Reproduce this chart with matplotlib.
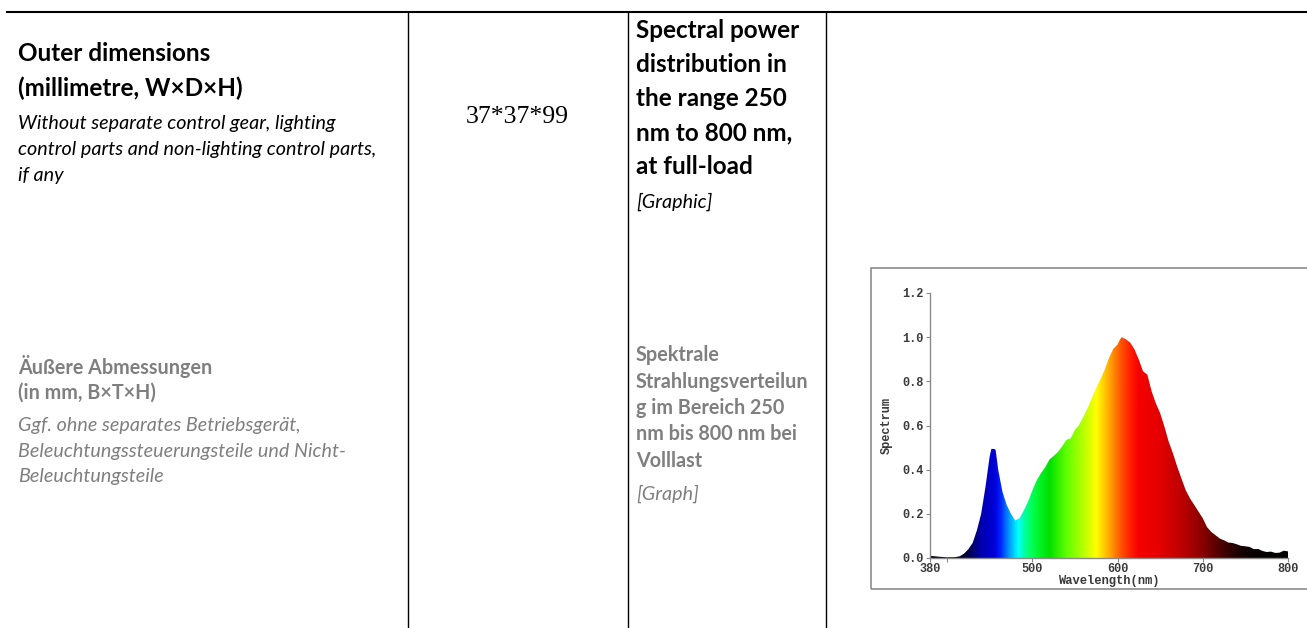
import numpy as np
import matplotlib
matplotlib.use("Agg")
import matplotlib.pyplot as plt
from matplotlib.colors import LinearSegmentedColormap
from matplotlib.patches import Rectangle, Polygon
from matplotlib.lines import Line2D

# ---------------- data ----------------
wavelength = [380, 390, 400, 410, 415, 420, 425, 430, 435, 440, 445, 450, 452, 455, 457,
              460, 465, 470, 475, 480, 485, 490, 495, 500, 505, 510, 515, 520, 525, 530,
              535, 540, 545, 550, 555, 560, 565, 570, 575, 580, 585, 590, 595, 600, 603,
              605, 610, 615, 620, 625, 630, 635, 640, 645, 650, 655, 660, 665, 670, 675,
              680, 685, 690, 695, 700, 705, 710, 715, 720, 725, 730, 735, 740, 745, 750,
              755, 760, 765, 770, 775, 780, 785, 790, 795, 800]
spectrum = [0.010, 0.006, 0.003, 0.004, 0.008, 0.020, 0.040, 0.068, 0.125, 0.200, 0.320, 0.460, 0.494, 0.494, 0.490,
            0.400, 0.300, 0.240, 0.200, 0.170, 0.180, 0.215, 0.255, 0.305, 0.350, 0.383, 0.410, 0.445, 0.462, 0.480,
            0.505, 0.535, 0.542, 0.580, 0.603, 0.640, 0.680, 0.725, 0.770, 0.810, 0.853, 0.906, 0.947, 0.967, 0.990,
            1.000, 0.990, 0.975, 0.944, 0.898, 0.845, 0.830, 0.755, 0.700, 0.656, 0.595, 0.527, 0.474, 0.414, 0.360,
            0.307, 0.270, 0.240, 0.210, 0.180, 0.140, 0.118, 0.103, 0.088, 0.080, 0.070, 0.068, 0.062, 0.055, 0.053,
            0.050, 0.040, 0.041, 0.032, 0.027, 0.029, 0.023, 0.024, 0.033, 0.030]

# wavelength -> colour anchors for the rainbow fill
color_nm = [380, 420, 430, 440, 455, 462, 470, 477, 483, 490, 500, 510, 520, 540, 560, 575,
            585, 595, 605, 615, 625, 650, 680, 700, 720, 740, 760, 800]
color_hex = ["#000010", "#000030", "#000070", "#0000b0", "#0000d8", "#0020ff", "#0080ff", "#00c8ff",
             "#00ffff", "#00ffa0", "#00ff50", "#00f020", "#00e000", "#60ff00", "#b8ff00", "#ffff00",
             "#ffc800", "#ff8c00", "#ff5000", "#ff2000", "#f60000", "#e40000", "#b40000", "#8a0000",
             "#500000", "#200000", "#080000", "#000000"]

y_ticks = [0.0, 0.2, 0.4, 0.6, 0.8, 1.0, 1.2]
x_ticks = [380, 400, 500, 600, 700, 800]
x_tick_labels = ["380", "", "500", "600", "700", "800"]

col1_en_bold = ["Outer dimensions", "(millimetre, W\u00d7D\u00d7H)"]
col1_en_ital = ["Without separate control gear, lighting",
                "control parts and non-lighting control parts,",
                "if any"]
col1_de_bold = ["\u00c4u\u00dfere Abmessungen", "(in mm, B\u00d7T\u00d7H)"]
col1_de_ital = ["Ggf. ohne separates Betriebsger\u00e4t,",
                "Beleuchtungssteuerungsteile und Nicht-",
                "Beleuchtungsteile"]
col2_value = "37*37*99"
col3_en_bold = ["Spectral power", "distribution in", "the range 250", "nm to 800 nm,", "at full-load"]
col3_en_ital = "[Graphic]"
col3_de_bold = ["Spektrale", "Strahlungsverteilun", "g im Bereich 250", "nm bis 800 nm bei", "Volllast"]
col3_de_ital = "[Graph]"

# ---------------- figure ----------------
W, H = 1307, 628
fig = plt.figure(figsize=(W / 100, H / 100), dpi=100)
fig.patch.set_facecolor("white")

def fx(px):
    return px / W

def fy(py):
    return 1 - py / H

# table lines
fig.add_artist(Line2D([fx(7), fx(1307)], [fy(11.5), fy(11.5)], color="black", lw=1.5,
                      transform=fig.transFigure))
for xv in [408, 627.5, 825.5]:
    fig.add_artist(Line2D([fx(xv), fx(xv)], [fy(11.5), fy(630)], color="black", lw=1.0,
                          transform=fig.transFigure))

TF = "Lato"
grey = "#7f7f7f"
HEAD = 17.5
SMALL = 14.2

# column 1, English
for i, t in enumerate(col1_en_bold):
    fig.text(fx(18), fy(61 + 35 * i), t, fontsize=HEAD, fontweight="bold", family=TF,
             color="black", va="baseline", ha="left")
for i, t in enumerate(col1_en_ital):
    fig.text(fx(18), fy(129 + 26 * i), t, fontsize=SMALL, style="italic", family=TF,
             color="black", va="baseline", ha="left")
# column 1, German
for i, t in enumerate(col1_de_bold):
    fig.text(fx(18), fy(374 + 25 * i), t, fontsize=SMALL, fontweight="bold", family=TF,
             color=grey, va="baseline", ha="left")
for i, t in enumerate(col1_de_ital):
    fig.text(fx(18), fy(431 + 25.5 * i), t, fontsize=SMALL, style="italic", family=TF,
             color=grey, va="baseline", ha="left")

# column 2
fig.text(fx(517.5), fy(123), col2_value, fontsize=18.5, family="Liberation Serif",
         color="black", va="baseline", ha="center")

# column 3, English
for i, t in enumerate(col3_en_bold):
    fig.text(fx(636), fy(38 + 34 * i), t, fontsize=HEAD, fontweight="bold", family=TF,
             color="black", va="baseline", ha="left")
fig.text(fx(636), fy(208), col3_en_ital, fontsize=SMALL, style="italic", family=TF,
         color="black", va="baseline", ha="left")
# column 3, German
for i, t in enumerate(col3_de_bold):
    fig.text(fx(636), fy(361 + 26.5 * i), t, fontsize=SMALL, fontweight="bold", family=TF,
             color=grey, va="baseline", ha="left")
fig.text(fx(636), fy(500), col3_de_ital, fontsize=SMALL, style="italic", family=TF,
         color=grey, va="baseline", ha="left")

# chart image frame
fig.add_artist(Rectangle((fx(871), fy(589)), fx(1330) - fx(871), fy(268) - fy(589),
                         fill=False, edgecolor="#8c8c8c", lw=1.2, transform=fig.transFigure))

# ---------------- spectrum axes ----------------
ax_l, ax_r, ax_t, ax_b = 930, 1288, 293, 558
ax = fig.add_axes([fx(ax_l), fy(ax_b), fx(ax_r) - fx(ax_l), fy(ax_t) - fy(ax_b)])
ax.set_facecolor("none")
ax.set_xlim(380, 800)
ax.set_ylim(0, 1.2)

wl = np.asarray(wavelength, dtype=float)
sp = np.asarray(spectrum, dtype=float)

stops = [(n - 380) / 420 for n in color_nm]
cmap = LinearSegmentedColormap.from_list("spec", list(zip(stops, color_hex)))
grad = np.linspace(0, 1, 840).reshape(1, -1)
im = ax.imshow(grad, cmap=cmap, extent=[380, 800, 0, 1.2], aspect="auto",
               origin="lower", interpolation="bilinear", zorder=2)
poly = Polygon(np.column_stack([np.r_[wl[0], wl, wl[-1]], np.r_[0, sp, 0]]),
               closed=True, facecolor="none", edgecolor="none", transform=ax.transData)
ax.add_patch(poly)
im.set_clip_path(poly)

for s in ["top", "right"]:
    ax.spines[s].set_visible(False)
for s in ["left", "bottom"]:
    ax.spines[s].set_color("#8a8a8a")
    ax.spines[s].set_linewidth(1.0)
    ax.spines[s].set_zorder(4)

mono = "Liberation Mono"
ax.set_yticks(y_ticks)
ax.set_yticklabels([f"{v:.1f}" for v in y_ticks], family=mono, fontweight="bold",
                   fontsize=8.6, color="#3a3a3a")
ax.set_xticks(x_ticks)
ax.set_xticklabels(x_tick_labels, family=mono, fontweight="bold", fontsize=8.6, color="#3a3a3a")
ax.tick_params(axis="y", direction="out", length=3, width=0.8, color="#8a8a8a", pad=1.5)
ax.tick_params(axis="x", direction="out", length=3, width=0.8, color="#8a8a8a", pad=0.5)
ax.set_xlabel("Wavelength(nm)", family=mono, fontweight="bold", fontsize=8.7,
              color="#3a3a3a", labelpad=0)
ax.set_ylabel("Spectrum", family=mono, fontweight="bold", fontsize=8.6,
              color="#3a3a3a", labelpad=7)

fig.savefig("out.png", dpi=100, facecolor="white")
